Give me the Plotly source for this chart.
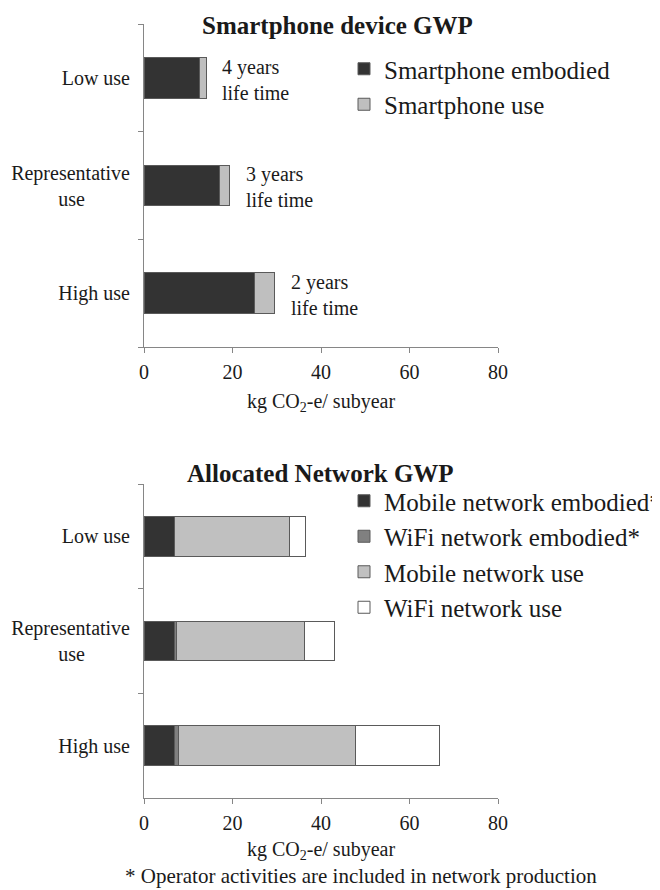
import plotly.graph_objects as go

# ---- data ----
categories = ["Low use", "Representative use", "High use"]
tick_text = ["Low use", "Representative<br>use" + "\u00a0" * 9, "High use"]

phone_embodied = [12.5, 17.0, 25.0]
phone_use = [1.6, 2.4, 4.6]
lifetime_labels = ["4 years<br>life time", "3 years<br>life time", "2 years<br>life time"]

mobile_embodied = [6.9, 6.9, 6.8]
wifi_embodied = [0.1, 0.4, 1.0]
mobile_use = [25.9, 28.9, 39.9]
wifi_use = [3.5, 6.8, 19.0]

FONT = "Liberation Serif"
TXT = "#1a1a1a"
LINE = "#868686"
W = 660
H = 890
OFF = 8  # page body margin offset


def px(sx):
    return (sx - OFF) / W


def py(sy):
    return 1 - (sy - OFF) / H


fig = go.Figure()

bw = 0.38
outline = dict(color="#5a5a5a", width=1)

# top chart
fig.add_trace(go.Bar(y=categories, x=phone_embodied, orientation="h", name="Smartphone embodied",
                     marker=dict(color="#333333", line=outline), width=bw,
                     xaxis="x", yaxis="y", legend="legend", legendgroup="a"))
fig.add_trace(go.Bar(y=categories, x=phone_use, orientation="h", name="Smartphone use",
                     marker=dict(color="#bfbfbf", line=outline), width=bw,
                     xaxis="x", yaxis="y", legend="legend", legendgroup="b"))

# bottom chart
fig.add_trace(go.Bar(y=categories, x=mobile_embodied, orientation="h", name="Mobile network embodied*",
                     marker=dict(color="#333333", line=outline), width=bw,
                     xaxis="x2", yaxis="y2", legend="legend2", legendgroup="c"))
fig.add_trace(go.Bar(y=categories, x=wifi_embodied, orientation="h", name="WiFi network embodied*",
                     marker=dict(color="#808080", line=outline), width=bw,
                     xaxis="x2", yaxis="y2", legend="legend2", legendgroup="d"))
fig.add_trace(go.Bar(y=categories, x=mobile_use, orientation="h", name="Mobile network use",
                     marker=dict(color="#c0c0c0", line=outline), width=bw,
                     xaxis="x2", yaxis="y2", legend="legend2", legendgroup="e"))
fig.add_trace(go.Bar(y=categories, x=wifi_use, orientation="h", name="WiFi network use",
                     marker=dict(color="#ffffff", line=outline), width=bw,
                     xaxis="x2", yaxis="y2", legend="legend2", legendgroup="f"))

xdom = [px(144), px(498)]


def x_axis(anchor, standoff):
    return dict(domain=xdom, anchor=anchor, range=[0, 80], tickvals=[0, 20, 40, 60, 80],
                showline=True, linecolor=LINE, linewidth=1, ticks="outside", ticklen=5,
                tickcolor=LINE, showgrid=False, zeroline=False,
                tickfont=dict(size=20, family=FONT, color=TXT), fixedrange=True,
                automargin=False, ticklabelstandoff=2,
                title=dict(text="kg CO<sub>2</sub>-e/ subyear",
                           font=dict(size=20, family=FONT, color=TXT), standoff=standoff))


common_y = dict(autorange="reversed", type="category", categoryorder="array", categoryarray=categories,
                tickvals=categories, ticktext=tick_text, automargin=False,
                showline=True, linecolor=LINE, linewidth=1, ticks="outside", ticklen=5,
                tickcolor=LINE, tickson="boundaries", showgrid=False, zeroline=False,
                tickfont=dict(size=20, family=FONT, color=TXT), ticklabelstandoff=9)

fig.update_layout(
    width=W, height=H,
    margin=dict(l=0, r=0, t=0, b=0),
    paper_bgcolor="white", plot_bgcolor="white",
    barmode="stack",
    font=dict(family=FONT, color=TXT),
    xaxis=x_axis("y", 11),
    yaxis=dict(domain=[py(347), py(24)], anchor="x", **common_y),
    xaxis2=x_axis("y2", 8),
    yaxis2=dict(domain=[py(798), py(484)], anchor="x2", **common_y),
    legend=dict(x=px(344), y=py(46), xanchor="left", yanchor="top", bgcolor="rgba(0,0,0,0)",
                font=dict(size=25, family=FONT, color=TXT), tracegroupgap=8, traceorder="normal"),
    legend2=dict(x=px(344), y=py(478), xanchor="left", yanchor="top", bgcolor="rgba(0,0,0,0)",
                 font=dict(size=25, family=FONT, color=TXT), tracegroupgap=2, traceorder="normal"),
    showlegend=True,
)

annotations = [
    dict(text="<b>Smartphone device GWP</b>", x=px(337), y=py(25), xref="paper", yref="paper",
         xanchor="center", yanchor="middle",
         showarrow=False, font=dict(size=25, family=FONT, color=TXT)),
    dict(text="<b>Allocated Network GWP</b>", x=px(320), y=py(473), xref="paper", yref="paper",
         xanchor="center", yanchor="middle",
         showarrow=False, font=dict(size=25, family=FONT, color=TXT)),
    dict(text="* Operator activities are included in network production", x=px(361), y=py(876),
         xref="paper", yref="paper", xanchor="center", yanchor="middle",
         showarrow=False, font=dict(size=21, family=FONT, color=TXT)),
]
for cat, e, u, lab in zip(categories, phone_embodied, phone_use, lifetime_labels):
    annotations.append(dict(text=lab, x=e + u, y=cat, xref="x", yref="y", xanchor="left",
                            xshift=14, yshift=-2, showarrow=False, align="left",
                            font=dict(size=20, family=FONT, color=TXT)))
fig.update_layout(annotations=annotations)

fig.write_html("out.html")
